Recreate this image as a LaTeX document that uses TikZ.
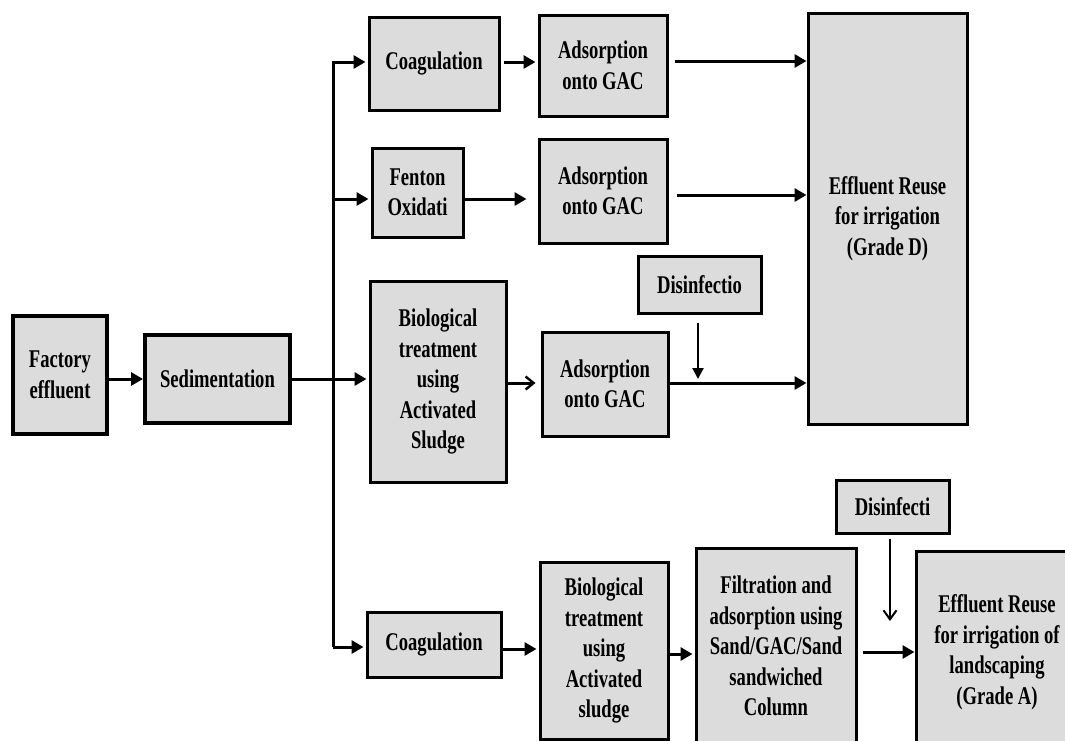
\documentclass[tikz,border=0pt]{standalone}
\usepackage{fontspec}
\setmainfont{Liberation Serif}[FakeStretch=0.73]
\usetikzlibrary{arrows.meta}
\definecolor{boxgray}{HTML}{DCDCDC}
\begin{document}
\begin{tikzpicture}[x=1pt,y=-1pt,
  box/.style={draw=black, fill=boxgray, line width=3pt, inner sep=0pt, align=center,
    font=\bfseries\fontsize{25.5}{30.5}\selectfont},
  heavy/.style={line width=4pt},
  conn/.style={line width=3pt, line join=miter, -{Triangle[length=12pt,width=13pt]}},
  barb/.style={line width=3pt, -{Straight Barb[length=8pt,width=13pt,line width=2.4pt]}},
  thinconn/.style={line width=2pt, -{Triangle[length=11pt,width=11pt]}},
  thinbarb/.style={line width=2pt, -{Straight Barb[length=9pt,width=13pt,line width=2pt]}}]
\clip (0,0) rectangle (1065,740);
\fill[white] (0,0) rectangle (1065,740);

\node[box,heavy,minimum width=94pt,minimum height=118pt] (fac) at (60,375) {Factory\\effluent};
\node[box,heavy,minimum width=145pt,minimum height=88pt] (sed) at (217.5,379) {Sedimentation};
\node[box,minimum width=130pt,minimum height=93pt] (coag1) at (434,63.5) {Coagulation};
\node[box,minimum width=128pt,minimum height=101pt] (ads1) at (603,65.5) {Adsorption\\onto GAC};
\node[box,minimum width=91pt,minimum height=89pt] (fen) at (417.5,192.5) {Fenton\\Oxidati};
\node[box,minimum width=128pt,minimum height=104pt] (ads2) at (603,191) {Adsorption\\onto GAC};
\node[box,minimum width=136pt,minimum height=201pt] (bio1) at (438,381.5) {Biological\\treatment\\using\\Activated\\Sludge};
\node[box,minimum width=126pt,minimum height=104pt] (ads3) at (605,384) {Adsorption\\onto GAC};
\node[box,minimum width=123pt,minimum height=57pt] (dis1) at (699.5,284.5) {Disinfectio};
\node[box,minimum width=159pt,minimum height=411pt] (effD) at (887.5,218.5) {Effluent Reuse\\for irrigation\\(Grade D)};
\node[box,minimum width=134pt,minimum height=65pt] (coag2) at (434,644.5) {Coagulation};
\node[box,minimum width=128pt,minimum height=177pt] (bio2) at (604,650.5) {Biological\\treatment\\using\\Activated\\sludge};
\node[box,minimum width=160pt,minimum height=196pt] (filt) at (776,646) {Filtration and\\adsorption using\\Sand/GAC/Sand\\sandwiched\\Column};
\node[box,minimum width=162pt,minimum height=202pt] (effA) at (997,652) {Effluent Reuse\\for irrigation of\\landscaping\\(Grade A)};
\node[box,minimum width=113pt,minimum height=53pt] (dis2) at (892.5,506.5) {Disinfecti};

\coordinate (jt) at (333,62);
\coordinate (jf) at (333,199);
\coordinate (jb) at (333,647);

% main feed
\draw[conn] (fac.east |- sed) -- (sed.west);
\draw[conn,shorten >=2pt] (sed.east) -- (sed.east -| bio1.west);
\draw[conn,shorten >=2pt] (jb) -- (jt) -- (jt -| coag1.west);
\draw[conn,shorten >=2pt] (jf) -- (jf -| fen.west);
\draw[conn,shorten >=2pt] (jb) -- (jb -| coag2.west);

% branch 1
\draw[conn,shorten <=3pt,shorten >=2pt] (coag1.east |- jt) -- (jt -| ads1.west);
\draw[conn,shorten <=6pt] (ads1.east |- 0,61) -- (effD.west |- 0,61);
% branch 2
\draw[conn,shorten >=11pt] (jf -| fen.east) -- (jf -| ads2.west);
\draw[conn,shorten <=8pt] (ads2.east |- 0,195) -- (effD.west |- 0,195);
% branch 3
\draw[barb,shorten >=5pt] (bio1.east |- 0,383) -- (ads3.west |- 0,383);
\draw[conn] (ads3.east |- 0,383) -- (effD.west |- 0,383);
\draw[thinconn,shorten <=8pt,shorten >=4pt] (dis1.south -| 698,0) -- (698,383);
% branch 4
\draw[conn,shorten >=2pt] (coag2.east |- 0,649) -- (bio2.west |- 0,649);
\draw[conn,shorten >=2pt] (bio2.east |- 0,654) -- (filt.west |- 0,654);
\draw[conn,shorten <=5pt] (filt.east |- 0,652) -- (effA.west |- 0,652);
\draw[thinbarb,shorten <=4pt] (dis2.south -| 890,0) -- (890,621);
\end{tikzpicture}
\end{document}
